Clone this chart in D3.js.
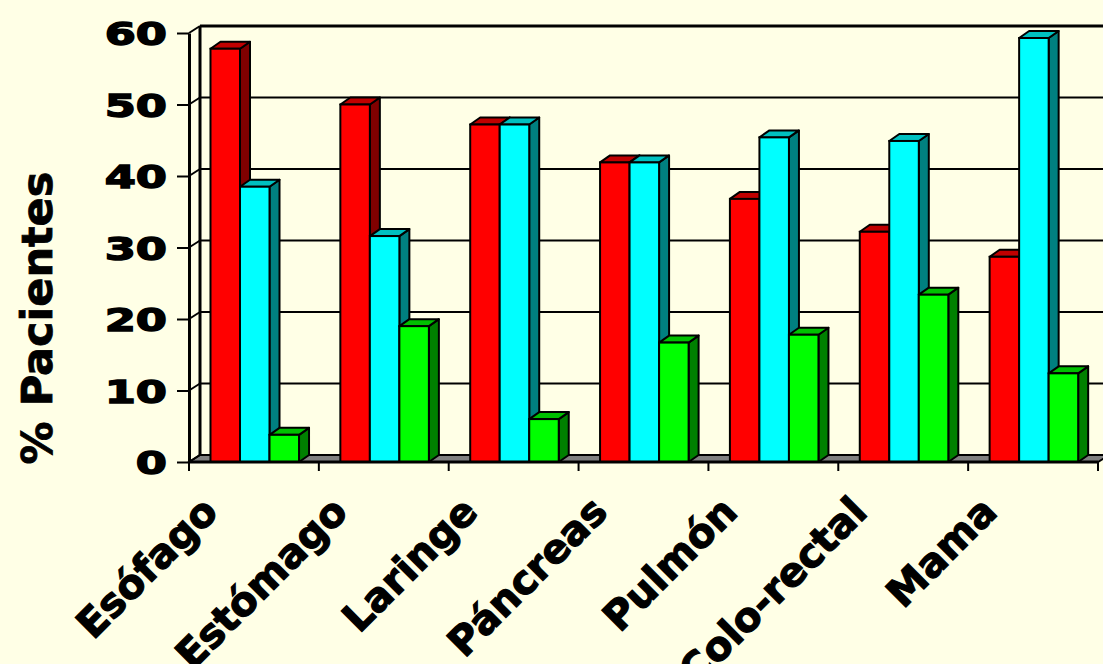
<!DOCTYPE html>
<html>
<head>
<meta charset="utf-8">
<script src="https://cdn.jsdelivr.net/npm/d3@7"></script>
<style>
  body { margin: 0; background: #FFFFE6; }
  svg { display: block; }
</style>
</head>
<body>
<div id="chart"></div>
<script>
// data
var categories = ["Esófago", "Estómago", "Laringe", "Páncreas", "Pulmón", "Colo-rectal", "Mama"];
var seriesNames = ["s1", "s2", "s3"];
var redValues   = [57.8, 50.0, 47.2, 41.9, 36.8, 32.2, 28.7];
var cyanValues  = [38.5, 31.6, 47.2, 41.9, 45.4, 44.9, 59.3];
var greenValues = [3.8, 19.0, 6.0, 16.7, 17.8, 23.4, 12.4];
var yTicks = [0, 10, 20, 30, 40, 50, 60];

var svgWidth = 1103;
var svgHeight = 664;

// 3d depth of the walls and bars
var depthX = 11, depthY = -7;
var barDX = 10, barDY = -7;

// colors: front, top, side
var colors = {
  s1: ["#FF0000", "#C00000", "#800000"],
  s2: ["#00FFFF", "#00C0C0", "#008080"],
  s3: ["#00FF00", "#00C000", "#008000"]
};

var svg = d3.select("#chart")
  .append("svg")
  .attr("width", svgWidth)
  .attr("height", svgHeight);

var x0 = 189, x1 = 1098;
var y = d3.scaleLinear().domain([0, 60]).range([462, 33]);

var x = d3.scaleBand()
  .domain(categories)
  .range([x0, x1]);

var xs = d3.scaleBand()
  .domain(seriesNames)
  .range([0, x.bandwidth()])
  .paddingOuter(0.7)
  .align(0.52);

// back wall gridlines (10..60) and slanted side lines
var grid = svg.append("g");
yTicks.filter(d => d > 0).forEach(function(v) {
  grid.append("line")
    .attr("x1", x0 + depthX).attr("x2", svgWidth + 20)
    .attr("y1", y(v) + depthY).attr("y2", y(v) + depthY)
    .attr("stroke", "#000").attr("stroke-width", v === 60 ? 3 : 2);
  grid.append("line")
    .attr("x1", x0).attr("x2", x0 + depthX)
    .attr("y1", y(v)).attr("y2", y(v) + depthY)
    .attr("stroke", "#000").attr("stroke-width", 2);
});
// back wall left edge
grid.append("line")
  .attr("x1", x0 + depthX).attr("x2", x0 + depthX)
  .attr("y1", y(60) + depthY).attr("y2", y(0) + depthY)
  .attr("stroke", "#000").attr("stroke-width", 3);

// floor
svg.append("path")
  .attr("d", `M${x0},${y(0)} L${x0 + depthX},${y(0) + depthY} L${x1 + depthX},${y(0) + depthY} L${x1},${y(0)} Z`)
  .attr("fill", "#808080")
  .attr("stroke", "#000")
  .attr("stroke-width", 2);
svg.append("line")
  .attr("x1", x0).attr("x2", x0 + depthX)
  .attr("y1", y(0)).attr("y2", y(0) + depthY)
  .attr("stroke", "#000").attr("stroke-width", 2);

// bars
var rows = categories.map((c, i) => ({
  cat: c,
  vals: [redValues[i], cyanValues[i], greenValues[i]]
}));

var barGroups = svg.selectAll("g.cat")
  .data(rows)
  .enter()
  .append("g")
  .attr("class", "cat");

barGroups.each(function(d) {
  var g = d3.select(this);
  d.vals.forEach(function(v, j) {
    var s = seriesNames[j];
    var bx = x(d.cat) + xs(s);
    var bw = xs.bandwidth();
    var top = y(v), base = y(0);
    var c = colors[s];
    // side face
    g.append("path")
      .attr("d", `M${bx + bw},${base} L${bx + bw + barDX},${base + barDY} L${bx + bw + barDX},${top + barDY} L${bx + bw},${top} Z`)
      .attr("fill", c[2]).attr("stroke", "#000").attr("stroke-width", 2)
      .attr("stroke-linejoin", "round");
    // top face
    g.append("path")
      .attr("d", `M${bx},${top} L${bx + barDX},${top + barDY} L${bx + bw + barDX},${top + barDY} L${bx + bw},${top} Z`)
      .attr("fill", c[1]).attr("stroke", "#000").attr("stroke-width", 2)
      .attr("stroke-linejoin", "round");
    // front face
    g.append("rect")
      .attr("x", bx).attr("y", top)
      .attr("width", bw).attr("height", base - top)
      .attr("fill", c[0]).attr("stroke", "#000").attr("stroke-width", 2);
  });
});

// y axis on the front edge
var yAxis = svg.append("g")
  .attr("transform", `translate(${x0},0)`)
  .call(d3.axisLeft(y).tickValues(yTicks).tickSize(12).tickSizeOuter(0));
yAxis.select(".domain").attr("stroke-width", 3);
yAxis.selectAll(".tick line").attr("stroke-width", 2);
yAxis.selectAll(".tick text")
  .attr("x", 0)
  .attr("dy", "0.36em")
  .attr("transform", "translate(-22,0) scale(1.4,1)")
  .attr("font-family", "DejaVu Sans")
  .attr("font-weight", "bold")
  .attr("font-size", "32px")
  .attr("fill", "#000")
  .attr("stroke", "#000")
  .attr("stroke-width", 1.4);

// front floor edge and category ticks
svg.append("line")
  .attr("x1", x0).attr("x2", x1)
  .attr("y1", y(0)).attr("y2", y(0))
  .attr("stroke", "#000").attr("stroke-width", 3);
var bounds = categories.map(c => x(c)).concat([x1]);
svg.selectAll("line.xtick")
  .data(bounds)
  .enter()
  .append("line")
  .attr("class", "xtick")
  .attr("x1", d => d).attr("x2", d => d)
  .attr("y1", y(0)).attr("y2", y(0) + 9)
  .attr("stroke", "#000").attr("stroke-width", 2);

// category labels
svg.selectAll("text.xlabel")
  .data(categories)
  .enter()
  .append("text")
  .attr("class", "xlabel")
  .attr("transform", d => `translate(${x(d) + x.bandwidth() / 2 - 34},514) rotate(-45)`)
  .attr("text-anchor", "end")
  .attr("font-family", "DejaVu Sans")
  .attr("font-weight", "bold")
  .attr("font-size", "40px")
  .attr("fill", "#000")
  .attr("stroke", "#000")
  .attr("stroke-width", 1.2)
  .text(d => d);

// y title
svg.append("text")
  .attr("transform", "translate(52,318) rotate(-90)")
  .attr("text-anchor", "middle")
  .attr("font-family", "DejaVu Sans")
  .attr("font-weight", "bold")
  .attr("font-size", "43px")
  .attr("fill", "#000")
  .attr("stroke", "#000")
  .attr("stroke-width", 0.8)
  .text("% Pacientes");
</script>
</body>
</html>
